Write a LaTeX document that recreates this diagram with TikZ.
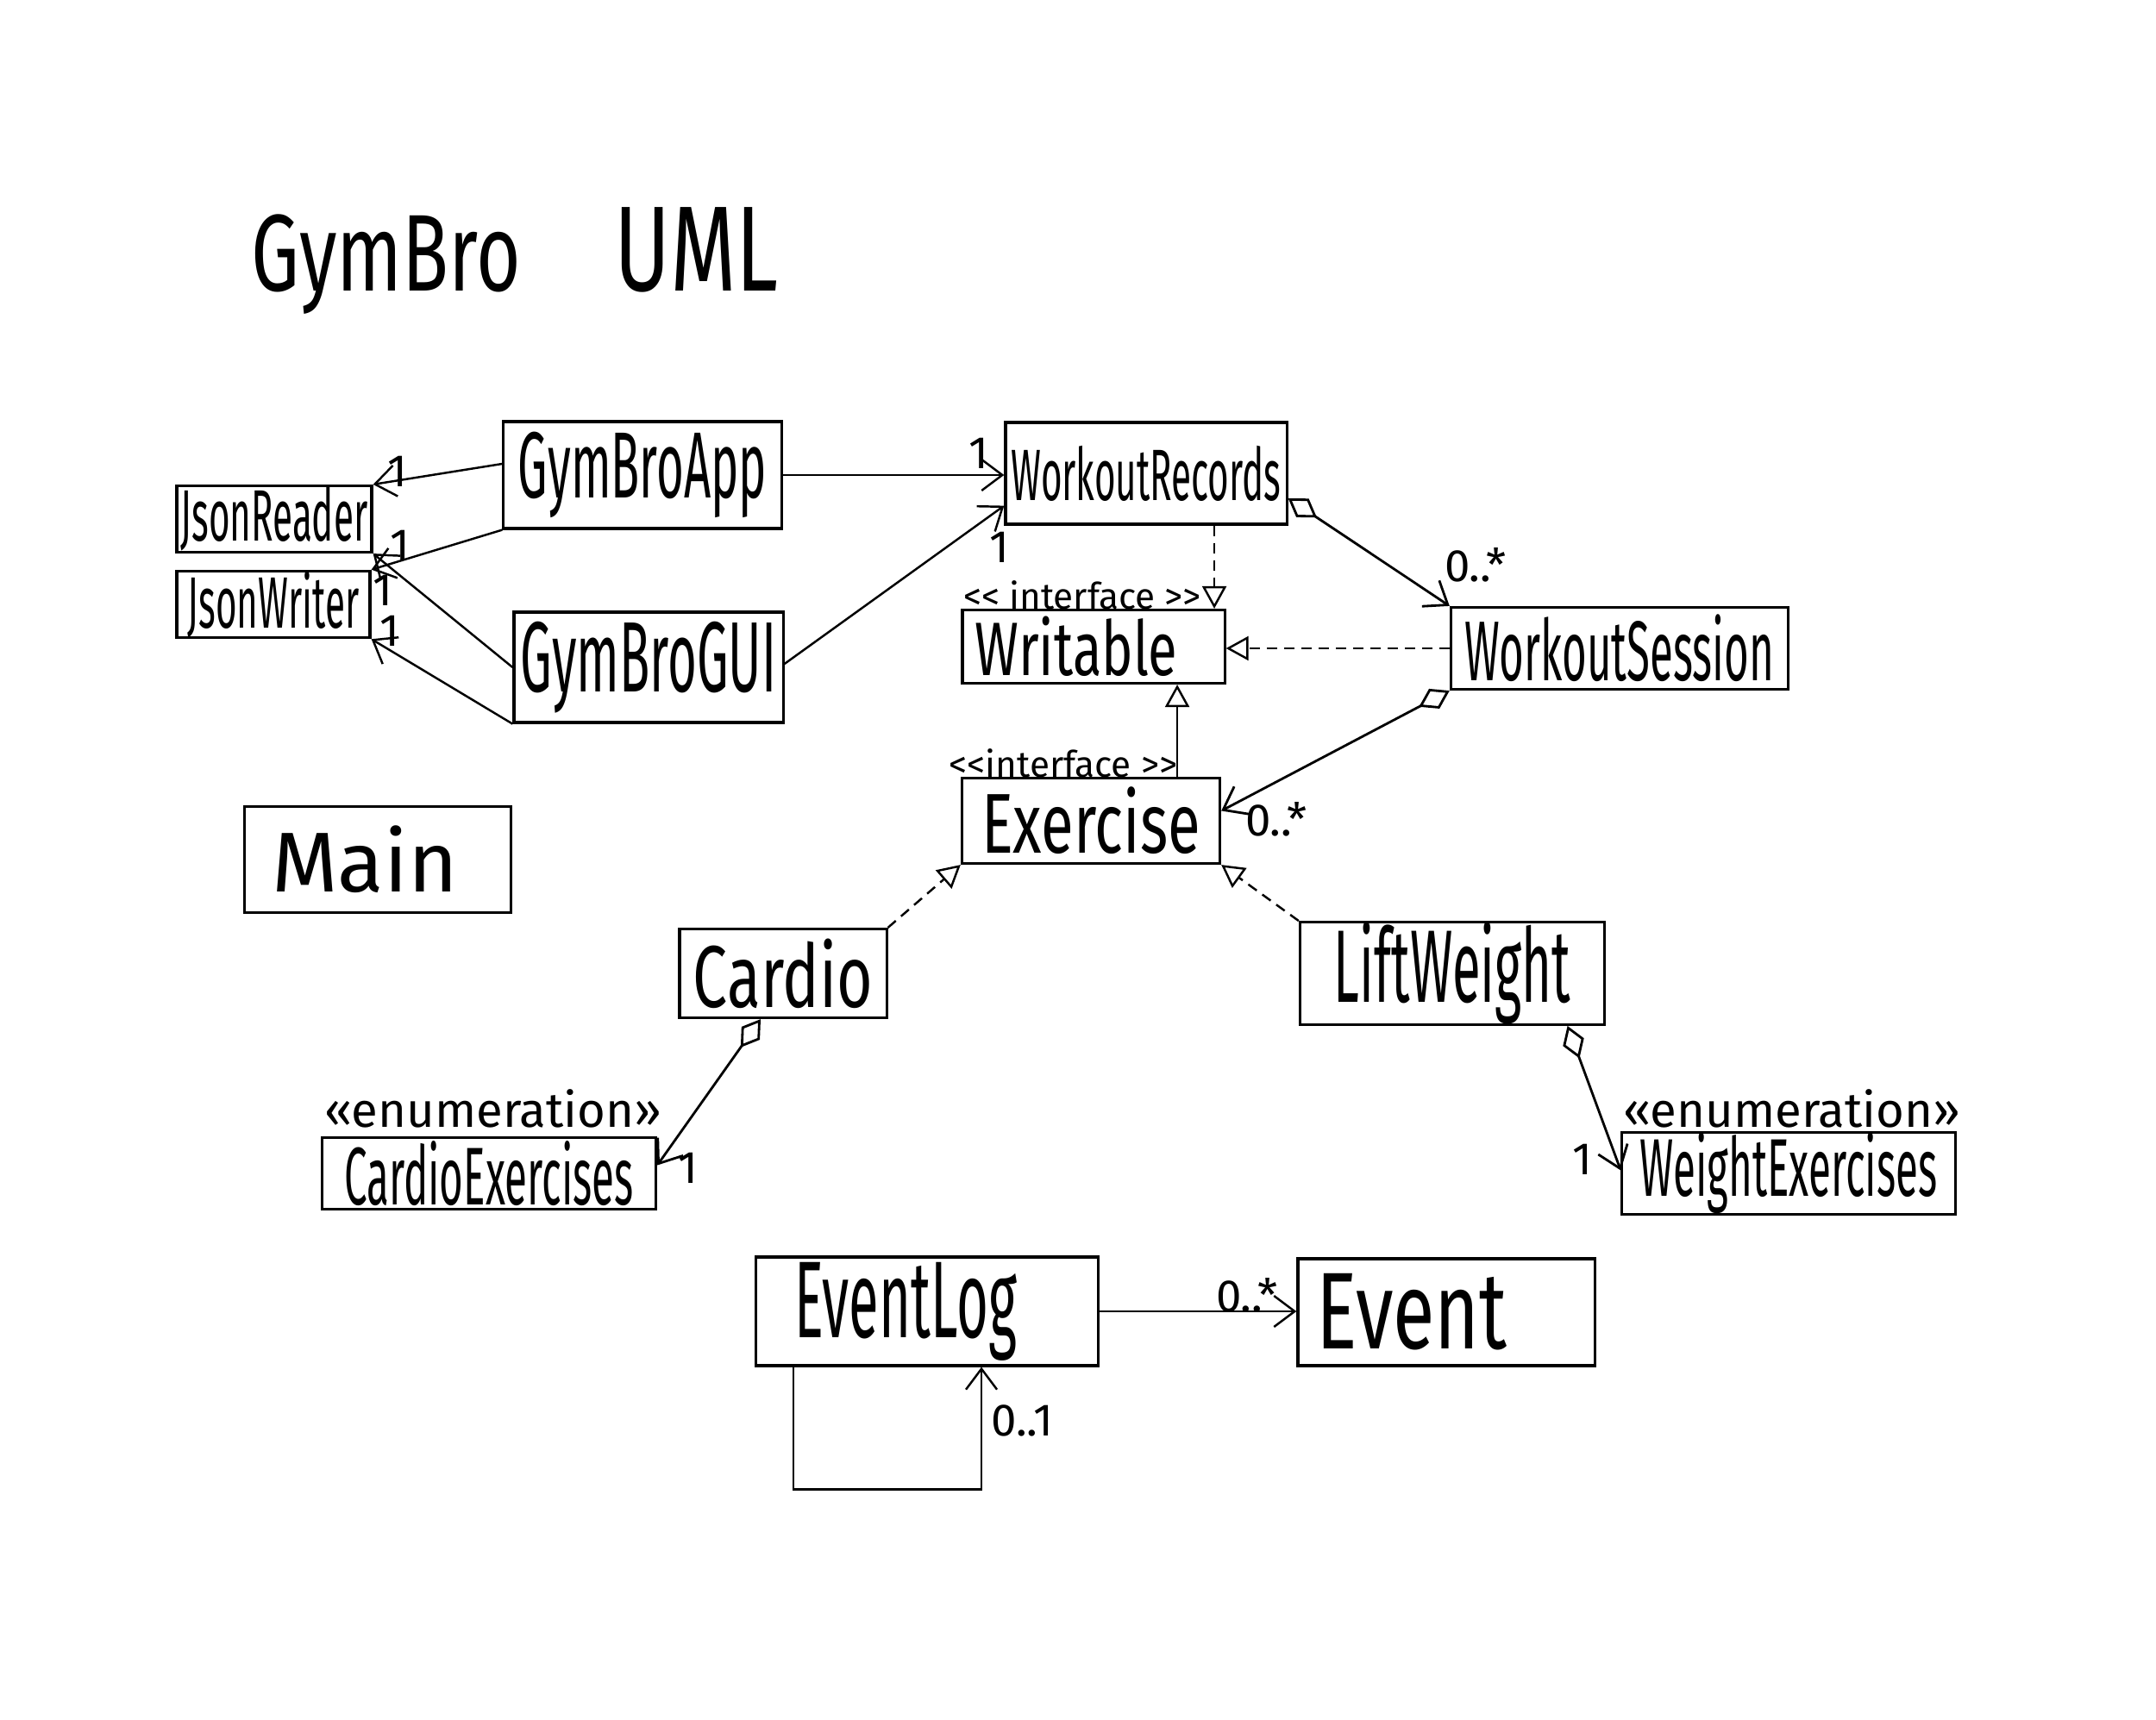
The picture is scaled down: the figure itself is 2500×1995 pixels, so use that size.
\documentclass[tikz,border=0pt]{standalone}
\usepackage{fontspec}
\setmainfont{Fira Sans}
\newfontfamily\hand[FakeStretch=0.5]{Fira Sans}
\newfontfamily\wide[FakeStretch=0.7]{Fira Sans}
\newcommand\handsize[1]{\hand\fontsize{#1}{#1}\selectfont}
\newcommand\widesize[1]{\wide\fontsize{#1}{#1}\selectfont}
\newcommand\notesize[1]{\fontsize{#1}{#1}\selectfont}
\usetikzlibrary{arrows.meta,calc}

\tikzset{
  cls/.style={draw, line width=0.9pt, inner sep=0pt},
  assoc/.style={-{Straight Barb[length=2.4mm,width=3.6mm]}, line width=0.7pt},
  real/.style={dash pattern=on 1.2mm off 0.8mm, -{Triangle[open,length=2.6mm,width=2.8mm]}, line width=0.7pt},
  gen/.style={-{Triangle[open,length=2.6mm,width=2.8mm]}, line width=0.7pt},
  agg/.style={{Diamond[open,length=4mm,width=2.6mm]}-{Straight Barb[length=2.4mm,width=3.6mm]}, line width=0.8pt},
  mult/.style={font=\notesize{15}},
  stereo/.style={font=\notesize{12}},
  enum/.style={font=\notesize{16}}
}

\begin{document}
\begin{tikzpicture}[x=0.01cm, y=-0.01cm]
\path[fill=white, use as bounding box] (0,0) rectangle (2500,1995);

% title
\node[anchor=base west] (title) at (279,338) {\widesize{36}GymBro\hspace{1.08cm}\widesize{40}UML};

% classes
\node[cls, minimum width=2.26cm, minimum height=0.77cm] (reader) at (318,602) {\handsize{24}JsonReader};
\node[cls, minimum width=2.24cm, minimum height=0.65cm] (writer) at (317,701) {\handsize{24}JsonWriter};
\node[cls, minimum width=3.22cm, minimum height=1.24cm] (app) at (745,551) {\handsize{31}GymBroApp};
\node[cls, minimum width=3.12cm, minimum height=1.28cm] (gui) at (752,774) {\handsize{33}GymBroGUI};
\node[cls, minimum width=3.26cm, minimum height=1.18cm] (records) at (1329,549) {\handsize{24}WorkoutRecords};
\node[cls, minimum width=3.04cm, minimum height=0.85cm] (writable) at (1268,750) {\widesize{25}Writable\hspace*{0.4cm}};
\node[cls, minimum width=3.91cm, minimum height=0.95cm] (session) at (1878,752) {\handsize{28}WorkoutSession};
\node[cls, minimum width=2.99cm, minimum height=0.99cm] (exercise) at (1265,952) {\widesize{28}Exercise};
\node[cls, minimum width=3.08cm, minimum height=1.23cm] (main) at (438,997) {\notesize{28}Main\hspace*{0.3cm}};
\node[cls, minimum width=2.40cm, minimum height=1.03cm] (cardio) at (908,1129) {\widesize{29}Cardio};
\node[cls, minimum width=3.53cm, minimum height=1.02cm] (lift) at (1684,1129) {\handsize{34}LiftWeight};
\node[cls, minimum width=3.87cm, minimum height=0.83cm] (cardioex) at (567,1361) {\handsize{27}CardioExercises};
\node[cls, minimum width=3.86cm, minimum height=0.83cm] (weightex) at (2074,1361) {\handsize{27}WeightExercises};
\node[cls, minimum width=3.96cm, minimum height=1.26cm] (eventlog) at (1075,1521) {\handsize{36}EventLog\hspace*{0.5cm}};
\node[cls, minimum width=3.44cm, minimum height=1.24cm] (event) at (1677,1522) {\widesize{36}Event\hspace*{0.8cm}};

% stereotypes
\node[stereo] (writablest) at (1255,690) {{<}{<} interface {>}{>}};
\node[stereo] (exercisest) at (1233,885) {{<}{<}interface {>}{>}};
\node[enum] (cardioexst) at (572,1286) {«enumeration»};
\node[enum] (weightexst) at (2078,1286) {«enumeration»};

% associations
\draw[assoc] ([yshift=0.13cm]app.west) -- (reader.north east);
\draw[assoc] (app.south west) -- (writer.north east);
\draw[assoc] (gui.west) -- (reader.south east);
\draw[assoc] (gui.south west) -- (writer.south east);
\draw[assoc] (app.east) -- (app.east -| records.west);
\draw[assoc] ([yshift=0.04cm]gui.east) -- ([yshift=0.23cm]records.south west);
\draw[agg] ([yshift=-0.29cm]records.east) -- (session.north west);
\draw[agg] (session.south west) -- ([yshift=0.115cm]exercise.east);
\draw[agg] ([xshift=-0.26cm]cardio.south) -- ([yshift=0.095cm]cardioex.east);
\draw[agg] ([xshift=1.335cm]lift.south) -- ([yshift=0.035cm]weightex.west);
\draw[assoc] (eventlog.east) -- (eventlog.east -| event.west);
\draw[assoc] ([xshift=-1.55cm]eventlog.south) -- ++(0,142) -| ([xshift=0.63cm]eventlog.south);

% realizations
\draw[real] ([xshift=0.79cm]records.south) -- ([xshift=0.79cm]records.south |- writable.north);
\draw[real] (session.west) -- (session.west -| writable.east);
\draw[gen] ([xshift=1cm]exercise.north) -- ([xshift=1cm]exercise.north |- writable.south);
\draw[real] (cardio.north east) -- (exercise.south west);
\draw[real] (lift.north west) -- (exercise.south east);

% multiplicities
\node[mult] (m1) at (461,547) {1};
\node[mult] (m2) at (464,633) {1};
\node[mult] (m3) at (444,685) {1};
\node[mult] (m4) at (452,732) {1};
\node[mult] (m5) at (1135,526) {1};
\node[mult] (m6) at (1159,635) {1};
\node[mult] (m7) at (1711,655) {0..*};
\node[mult] (m8) at (1480,950) {0..*};
\node[mult] (m9) at (798,1355) {1};
\node[mult] (m10) at (1835,1345) {1};
\node[mult] (m11) at (1446,1502) {0..*};
\node[mult] (m12) at (1185,1648) {0..1};
\end{tikzpicture}
\end{document}
